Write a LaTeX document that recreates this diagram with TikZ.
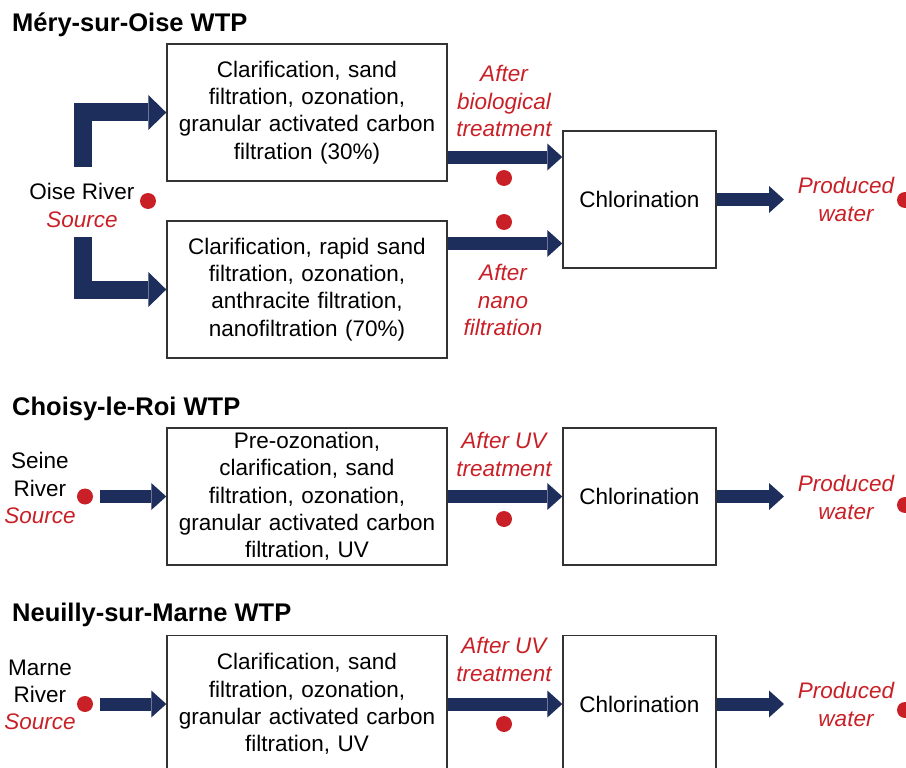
\documentclass[tikz,border=0pt]{standalone}
\usepackage{fontspec}
\setmainfont{Liberation Sans}
\usetikzlibrary{arrows.meta}
\definecolor{navy}{RGB}{30,46,92}
\definecolor{rd}{RGB}{200,32,38}
\begin{document}
\begin{tikzpicture}[x=1pt,y=-1pt,
  every node/.style={font=\fontsize{22.5}{27.3}\selectfont, inner sep=0pt},
  procbox/.style={draw=black!80, line width=1.4pt, minimum width=280pt, minimum height=137pt, text width=272pt, align=center},
  chlorbox/.style={draw=black!80, line width=1.4pt, minimum width=153pt, minimum height=137pt, align=center},
  redlab/.style={text=rd, font=\fontsize{22.5}{27.3}\selectfont\itshape, align=center},
  blacklab/.style={align=center},
  titlelab/.style={font=\fontsize{25.5}{30}\selectfont\bfseries, anchor=base west},
  rdot/.style={circle, fill=rd, minimum size=16pt},
  flow/.style={draw=navy, line width=13pt, -{Triangle[length=15pt,width=27pt,line width=0pt]}},
  elbow/.style={draw=navy, line width=18pt, line join=miter, -{Triangle[length=18pt,width=35pt,line width=0pt]}},
]
\useasboundingbox (0,0) rectangle (906,768);
\clip (0,0) rectangle (906,768);

% ---------- Mery-sur-Oise ----------
\node[titlelab] (t1) at (12,32) {Méry-sur-Oise WTP};
\node[procbox] (A1) at (307,112.5) {Clarification, sand\\filtration, ozonation,\\granular activated carbon\\filtration (30\%)};
\node[procbox] (A2) at (307,289.5) {Clarification, rapid sand\\filtration, ozonation,\\anthracite filtration,\\nanofiltration (70\%)};
\node[chlorbox] (C1) at (639.5,199.5) {Chlorination};
\node[blacklab] (src1) at (82,205.5) {Oise River\\\textcolor{rd}{\itshape Source}};
\node[rdot] (sd1) at (148,201) {};
\coordinate (e1) at (83,167);
\coordinate (e2) at (83,237);
\draw[elbow] (e1) -- (e1 |- A1.west) -- (A1.west);
\draw[elbow] (e2) -- (e2 |- A2.west) -- (A2.west);
\draw[flow] (A1.east |- 0,157) -- (C1.west |- 0,157);
\draw[flow] (A2.east |- 0,243.5) -- (C1.west |- 0,243.5);
\node[redlab] (lb1) at (504,101) {After\\biological\\treatment};
\node[redlab] (ln1) at (503,300) {After\\nano\\filtration};
\node[rdot] (db1) at (504,178) {};
\node[rdot] (dn1) at (504,222) {};
\coordinate (pw1) at (784,199.5);
\draw[flow] (C1.east) -- (pw1);
\node[redlab] (pr1) at (846,199.5) {Produced\\water};
\node[rdot] (pd1) at (905,200) {};

% ---------- Choisy-le-Roi ----------
\node[titlelab] (t2) at (12,415) {Choisy-le-Roi WTP};
\node[procbox] (B) at (307,496.5) {Pre-ozonation,\\clarification, sand\\filtration, ozonation,\\granular activated carbon\\filtration, UV};
\node[chlorbox] (C2) at (639.5,496.5) {Chlorination};
\node[blacklab] (src2) at (40,488) {Seine\\River\\\textcolor{rd}{\itshape Source}};
\node[rdot] (sd2) at (85,496.5) {};
\draw[flow] ([xshift=7pt]sd2.east) -- (B.west);
\draw[flow] (B.east) -- (C2.west);
\node[redlab] (lu2) at (504,454.5) {After UV\\treatment};
\node[rdot] (du2) at (504,519) {};
\coordinate (pw2) at (784,496.5);
\draw[flow] (C2.east) -- (pw2);
\node[redlab] (pr2) at (846,497.5) {Produced\\water};
\node[rdot] (pd2) at (905,505) {};

% ---------- Neuilly-sur-Marne ----------
\node[titlelab] (t3) at (12,621) {Neuilly-sur-Marne WTP};
\node[procbox] (D) at (307,704) {Clarification, sand\\filtration, ozonation,\\granular activated carbon\\filtration, UV};
\node[chlorbox] (C3) at (639.5,704) {Chlorination};
\node[blacklab] (src3) at (40,695) {Marne\\River\\\textcolor{rd}{\itshape Source}};
\node[rdot] (sd3) at (85,704) {};
\draw[flow] ([xshift=7pt]sd3.east) -- (D.west);
\draw[flow] (D.east) -- (C3.west);
\node[redlab] (lu3) at (504,659.5) {After UV\\treatment};
\node[rdot] (du3) at (504,724) {};
\coordinate (pw3) at (784,704);
\draw[flow] (C3.east) -- (pw3);
\node[redlab] (pr3) at (846,704.5) {Produced\\water};
\node[rdot] (pd3) at (905,710) {};
\end{tikzpicture}
\end{document}
